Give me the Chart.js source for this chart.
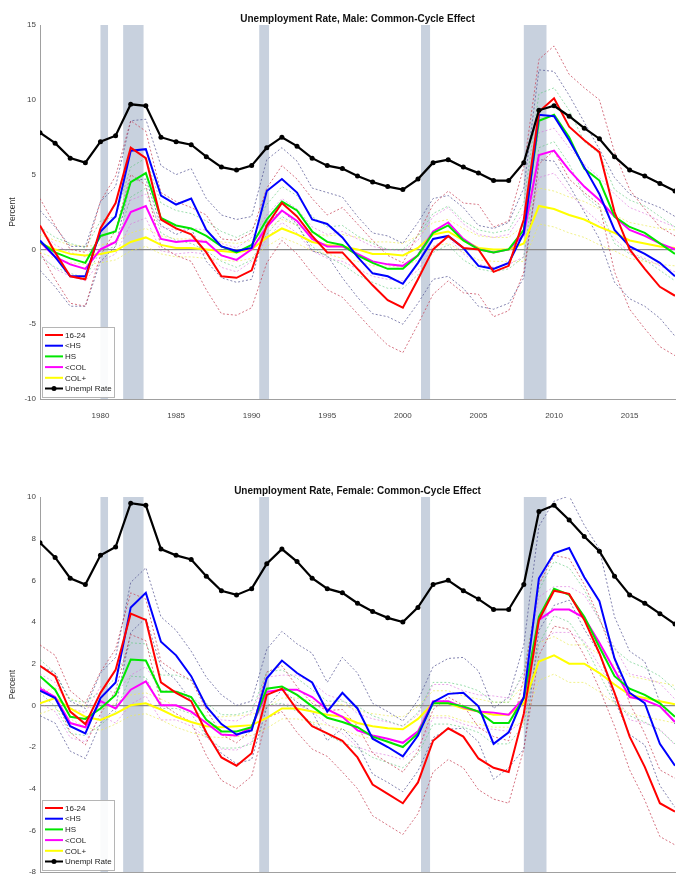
<!DOCTYPE html>
<html>
<head>
<meta charset="utf-8">
<script src="https://cdn.jsdelivr.net/npm/chart.js@4"></script>
<style>
  html, body { margin: 0; padding: 0; background: #fff; overflow: hidden; width: 676px; height: 884px; }
  .wrap { position: absolute; left: 0; width: 679px; }
  canvas { display: block; }
</style>
</head>
<body>
<div class="wrap" style="top:0"><canvas id="maleChart" width="679" height="419"></canvas></div>
<div class="wrap" style="top:472px"><canvas id="femaleChart" width="679" height="420"></canvas></div>
<script>
const YEARS = [1976,1977,1978,1979,1980,1981,1982,1983,1984,1985,1986,1987,1988,1989,1990,1991,1992,1993,1994,1995,
  1996,1997,1998,1999,2000,2001,2002,2003,2004,2005,2006,2007,2008,2009,2010,2011,2012,2013,2014,2015,2016,2017,2018];
const X_TICKS = [1980, 1985, 1990, 1995, 2000, 2005, 2010, 2015];
const RECESSIONS = [[1980.0, 1980.5], [1981.5, 1982.85], [1990.5, 1991.15], [2001.2, 2001.8], [2008.0, 2009.5]];
const LABELS = ["16-24", "<HS", "HS", "<COL", "COL+"];

// aggregate unemployment rate (same in both panels)
const UNEMPL = [7.8,7.1,6.1,5.8,7.2,7.6,9.7,9.6,7.5,7.2,7.0,6.2,5.5,5.3,5.6,6.8,7.5,6.9,6.1,5.6,
  5.4,4.9,4.5,4.2,4.0,4.7,5.8,6.0,5.5,5.1,4.6,4.6,5.8,9.3,9.6,8.9,8.1,7.4,6.2,5.3,4.9,4.4,3.9];

// ---- Male panel ----
const M_1624 = [1.6,-0.2,-1.8,-2.0,1.4,3.1,6.8,6.1,2.0,1.4,1.0, -0.2,-1.8,-1.9,-1.4,1.6,3.1,2.2,0.9,-0.2,
  -0.2,-1.3,-2.4,-3.4,-3.9,-2.0,0.0,0.9,0.1,0.0,-1.5,-1.1, 2.0,9.2,10.1,8.2,7.3,6.5, 2.5,0.0,-1.3,-2.5,-3.1];
const M_1624_HI = [3.4,1.6,0.0,-0.2,3.2,4.9,8.6,7.9,3.8,3.2,2.8, 2.3,0.7,0.6,1.1,4.1,5.6,4.7,3.4,2.3,
  2.8,1.7,0.6,-0.4,-0.9,1.0,3.0,3.9,3.1,3.0,1.5,1.9, 5.5,12.7,13.6,11.7,10.8,10.0, 6.5,4.0,2.7,1.5,0.9];
const M_1624_LO = [-0.2,-2.0,-3.6,-3.8,-0.4,1.3,5.0,4.3,0.2,-0.4,-0.8, -2.7,-4.3,-4.4,-3.9,-0.9,0.6,-0.3,-1.6,-2.7,
  -3.2,-4.3,-5.4,-6.4,-6.9,-5.0,-3.0,-2.1,-2.9,-3.0,-4.5,-4.1, -1.5,5.7,6.6,4.7,3.8,3.0, -1.5,-4.0,-5.3,-6.5,-7.1];
const M_LHS = [0.6,-0.5,-1.8,-1.8,1.2,2.2,6.6,6.7,3.6,3.0,3.4, 1.3,0.2,-0.1,0.1,3.9,4.7,3.8,2.0,1.7,
  0.8,-0.5,-1.6,-1.8,-2.3,-0.9,0.7,0.9,0.1,-1.1,-1.3,-0.9, 1.1,9.0,8.9,7.3,5.5,3.7, 1.3,0.2,-0.3,-0.9,-1.8];
const M_LHS_HI = [2.6,1.5,0.2,0.2,3.2,4.2,8.6,8.7,5.6,5.0,5.4, 3.4,2.3,2.0,2.2,6.0,6.8,5.9,4.1,3.8,
  3.5,2.2,1.1,0.9,0.4,1.8,3.4,3.6,2.8,1.6,1.4,1.8, 4.1,12.0,11.9,10.3,8.5,6.7, 4.8,3.7,3.2,2.8,2.2];
const M_LHS_LO = [-1.4,-2.5,-3.8,-3.8,-0.8,0.2,4.6,4.7,1.6,1.0,1.4, -0.8,-1.9,-2.2,-2.0,1.8,2.6,1.7,-0.1,-0.4,
  -1.9,-3.2,-4.3,-4.5,-5.0,-3.6,-2.0,-1.8,-2.6,-3.8,-4.0,-3.6, -1.9,6.0,5.9,4.3,2.5,0.7, -2.2,-3.3,-3.8,-4.6,-5.8];
const M_HS = [0.5,-0.2,-0.6,-0.9,0.9,1.2,4.5,5.1,2.1,1.6,1.4, 0.9,0.2,-0.2,0.3,2.0,3.2,2.6,1.2,0.5,
  0.3,-0.4,-0.9,-1.3,-1.3,-0.4,1.1,1.6,0.6,0.0,-0.2,0.0, 1.3,8.6,9.0,7.5,5.4,4.6, 2.2,1.5,1.1,0.4,-0.3];
const M_HS_HI = [1.5,0.8,0.4,0.1,1.9,2.2,5.5,6.1,3.1,2.6,2.4, 1.9,1.2,0.8,1.3,3.0,4.2,3.6,2.2,1.5,
  1.6,0.9,0.4,0.0,0.0,0.9,2.4,2.9,1.9,1.3,1.1,1.3, 3.1,10.4,10.8,9.3,7.2,6.4, 4.0,3.3,2.9,2.2,1.5];
const M_HS_LO = [-0.5,-1.2,-1.6,-1.9,-0.1,0.2,3.5,4.1,1.1,0.6,0.4, -0.1,-0.8,-1.2,-0.7,1.0,2.2,1.6,0.2,-0.5,
  -1.0,-1.7,-2.2,-2.6,-2.6,-1.7,-0.2,0.3,-0.7,-1.3,-1.5,-1.3, -0.5,6.8,7.2,5.7,3.6,2.8, 0.4,-0.3,-0.7,-1.4,-2.1];
const M_LCOL = [0.5,-0.5,-1.0,-1.3,0.0,0.5,2.5,2.9,0.7,0.5,0.6, 0.5,-0.4,-0.7,0.0,1.5,2.6,1.9,0.7,0.2,
  0.2,-0.3,-0.8,-1.0,-1.1,-0.4,1.2,1.8,0.7,0.0,-0.2,0.0, 1.0,6.3,6.6,5.3,4.2,3.3, 2.2,1.3,0.9,0.4,0.0];
const M_LCOL_HI = [1.3,0.3,-0.2,-0.5,0.8,1.3,3.3,3.7,1.5,1.3,1.4, 1.3,0.4,0.1,0.8,2.3,3.4,2.7,1.5,1.0,
  1.2,0.7,0.2,0.0,-0.1,0.6,2.2,2.8,1.7,1.0,0.8,1.0, 2.5,7.8,8.1,6.8,5.7,4.8, 3.7,2.8,2.4,1.9,1.5];
const M_LCOL_LO = [-0.3,-1.3,-1.8,-2.1,-0.8,-0.3,1.7,2.1,-0.1,-0.3,-0.2, -0.3,-1.2,-1.5,-0.8,0.7,1.8,1.1,-0.1,-0.6,
  -0.8,-1.3,-1.8,-2.0,-2.1,-1.4,0.2,0.8,-0.3,-1.0,-1.2,-1.0, -0.5,4.8,5.1,3.8,2.7,1.8, 0.7,-0.2,-0.6,-1.1,-1.5];
const M_COL = [0.4,0.0,-0.3,-0.4,-0.3,-0.1,0.5,0.8,0.3,0.1,0.1, 0.0,-0.1,-0.2,0.0,0.8,1.4,1.0,0.5,0.3,
  0.2,0.0,-0.3,-0.3,-0.4,0.1,1.0,1.2,0.6,0.1,0.0,0.0, 0.4,2.9,2.7,2.3,2.0,1.5, 1.1,0.6,0.4,0.2,0.1];
const M_COL_HI = [1.0,0.6,0.3,0.2,0.3,0.5,1.1,1.4,0.9,0.7,0.7, 0.6,0.5,0.4,0.6,1.4,2.0,1.6,1.1,0.9,
  1.0,0.8,0.5,0.5,0.4,0.9,1.8,2.0,1.4,0.9,0.8,0.8, 1.6,4.1,3.9,3.5,3.2,2.7, 2.3,1.8,1.6,1.4,1.3];
const M_COL_LO = [-0.2,-0.6,-0.9,-1.0,-0.9,-0.7,-0.1,0.2,-0.3,-0.5,-0.5, -0.6,-0.7,-0.8,-0.6,0.2,0.8,0.4,-0.1,-0.3,
  -0.6,-0.8,-1.1,-1.1,-1.2,-0.7,0.2,0.4,-0.2,-0.7,-0.8,-0.8, -0.8,1.7,1.5,1.1,0.8,0.3, -0.1,-0.6,-0.8,-1.0,-1.1];

// ---- Female panel ----
const F_1624 = [1.9,1.4,-0.3,-0.9,0.6,1.7,4.4,4.1,1.1,0.6,0.2, -1.3,-2.5,-2.9,-2.3,0.5,0.8,-0.2,-1.0,-1.35,
  -1.7,-2.5,-3.8,-4.25,-4.7,-3.7,-1.7,-1.1,-1.5,-2.55,-3.0,-3.2, -0.4,4.1,5.5,5.35,4.1,2.5, 0.6,-1.5,-2.95,-4.7,-5.1];
const F_1624_HI = [2.9,2.4,0.7,0.1,1.6,2.7,5.4,5.1,2.1,1.6,1.2, -0.2,-1.4,-1.8,-1.2,1.6,1.9,0.9,0.1,-0.25,
  -0.2,-1.0,-2.3,-2.75,-3.2,-2.2,-0.2,0.4,0.0,-1.05,-1.5,-1.7, 1.3,5.8,7.2,7.05,5.8,4.2, 2.2,0.1,-1.35,-3.1,-3.5];
const F_1624_LO = [0.9,0.4,-1.3,-1.9,-0.4,0.7,3.4,3.1,0.1,-0.4,-0.8, -2.4,-3.6,-4.0,-3.4,-0.6,-0.3,-1.3,-2.1,-2.45,
  -3.2,-4.0,-5.3,-5.75,-6.2,-5.2,-3.2,-2.6,-3.0,-4.05,-4.5,-4.7, -2.1,2.4,3.8,3.65,2.4,0.8, -1.0,-3.1,-4.55,-6.3,-6.7];
const F_LHS = [0.7,0.35,-1.0,-1.35,0.35,1.1,4.7,5.4,3.05,2.4,1.4, -0.05,-0.9,-1.4,-1.2,1.3,2.15,1.55,1.1,-0.3,
  0.6,-0.15,-1.6,-2.0,-2.45,-1.45,0.15,0.55,0.6,-0.05,-1.85,-1.3, 0.4,6.1,7.3,7.55,6.15,5.0, 2.25,0.6,0.1,-1.85,-2.9];
const F_LHS_HI = [1.9,1.55,0.2,-0.15,1.55,2.3,5.9,6.6,4.25,3.6,2.6, 1.35,0.5,0.0,0.2,2.7,3.55,2.95,2.5,1.1,
  2.3,1.55,0.1,-0.3,-0.75,0.25,1.85,2.25,2.3,1.65,-0.15,0.4, 2.9,8.6,9.8,10.05,8.65,7.5, 4.25,2.6,2.1,0.15,-0.9];
const F_LHS_LO = [-0.5,-0.85,-2.2,-2.55,-0.85,-0.1,3.5,4.2,1.85,1.2,0.2, -1.45,-2.3,-2.8,-2.6,-0.1,0.75,0.15,-0.3,-1.7,
  -1.1,-1.85,-3.3,-3.7,-4.15,-3.15,-1.55,-1.15,-1.1,-1.75,-3.55,-3.0, -2.1,3.6,4.8,5.05,3.65,2.5, 0.25,-1.4,-1.9,-3.85,-4.9];
const F_HS = [1.4,0.75,-0.55,-0.65,-0.15,0.5,2.2,2.15,0.65,0.65,0.4, -0.7,-1.25,-1.25,-1.05,0.8,0.9,0.5,-0.05,-0.6,
  -0.8,-1.05,-1.5,-1.75,-2.0,-1.35,0.1,0.1,-0.05,-0.3,-0.85,-0.85, 0.35,4.25,5.6,5.3,4.25,2.8, 1.4,0.8,0.5,0.1,-0.55];
const F_HS_HI = [2.2,1.55,0.25,0.15,0.65,1.3,3.0,2.95,1.45,1.45,1.2, 0.1,-0.45,-0.45,-0.25,1.6,1.7,1.3,0.75,0.2,
  0.2,-0.05,-0.5,-0.75,-1.0,-0.35,1.1,1.1,0.95,0.7,0.15,0.15, 1.65,5.55,6.9,6.6,5.55,4.1, 2.7,2.1,1.8,1.4,0.75];
const F_HS_LO = [0.6,-0.05,-1.35,-1.45,-0.95,-0.3,1.4,1.35,-0.15,-0.15,-0.4, -1.5,-2.05,-2.05,-1.85,0.0,0.1,-0.3,-0.85,-1.4,
  -1.8,-2.05,-2.5,-2.75,-3.0,-2.35,-0.9,-0.9,-1.05,-1.3,-1.85,-1.85, -0.95,2.95,4.3,4.0,2.95,1.5, 0.1,-0.5,-0.8,-1.2,-1.85];
const F_LCOL = [0.8,0.4,-0.85,-1.05,0.2,-0.15,0.75,1.15,0.0,0.0,-0.3, -0.85,-1.4,-1.45,-1.05,0.65,0.75,0.75,0.4,-0.2,
  -0.55,-1.2,-1.45,-1.6,-1.8,-1.25,0.2,0.2,-0.1,-0.3,-0.35,-0.45, 0.35,4.1,4.6,4.6,4.2,3.0, 1.7,0.4,0.25,-0.05,-0.8];
const F_LCOL_HI = [1.5,1.1,-0.15,-0.35,0.9,0.55,1.45,1.85,0.7,0.7,0.4, -0.15,-0.7,-0.75,-0.35,1.35,1.45,1.45,1.1,0.5,
  0.25,-0.4,-0.65,-0.8,-1.0,-0.45,1.0,1.0,0.7,0.5,0.45,0.35, 1.45,5.2,5.7,5.7,5.3,4.1, 2.8,1.5,1.35,1.05,0.3];
const F_LCOL_LO = [0.1,-0.3,-1.55,-1.75,-0.5,-0.85,0.05,0.45,-0.7,-0.7,-1.0, -1.55,-2.1,-2.15,-1.75,-0.05,0.05,0.05,-0.3,-0.9,
  -1.35,-2.0,-2.25,-2.4,-2.6,-2.05,-0.6,-0.6,-0.9,-1.1,-1.15,-1.25, -0.75,3.0,3.5,3.5,3.1,1.9, 0.6,-0.7,-0.85,-1.15,-1.9];
const F_COL = [0.1,0.35,-0.15,-0.55,-0.7,-0.4,0.0,0.1,-0.2,-0.55,-0.8, -1.0,-1.05,-1.0,-0.95,-0.6,-0.15,-0.15,-0.3,-0.45,
  -0.55,-0.85,-1.0,-1.1,-1.15,-0.65,0.1,0.1,-0.15,-0.3,-0.45,-0.45, 0.1,2.1,2.4,2.0,2.0,1.55, 1.0,0.5,0.35,0.2,0.05];
const F_COL_HI = [0.6,0.85,0.35,-0.05,-0.2,0.1,0.5,0.6,0.3,-0.05,-0.3, -0.5,-0.55,-0.5,-0.45,-0.1,0.35,0.35,0.2,0.05,
  0.05,-0.25,-0.4,-0.5,-0.55,-0.05,0.7,0.7,0.45,0.3,0.15,0.15, 1.0,3.0,3.3,2.9,2.9,2.45, 1.9,1.4,1.25,1.1,0.95];
const F_COL_LO = [-0.4,-0.15,-0.65,-1.05,-1.2,-0.9,-0.5,-0.4,-0.7,-1.05,-1.3, -1.5,-1.55,-1.5,-1.45,-1.1,-0.65,-0.65,-0.8,-0.95,
  -1.15,-1.45,-1.6,-1.7,-1.75,-1.25,-0.5,-0.5,-0.75,-0.9,-1.05,-1.05, -0.8,1.2,1.5,1.1,1.1,0.65, 0.1,-0.4,-0.55,-0.7,-0.85];

const LINE_COLORS = ["#ff0000", "#0000ff", "#00e600", "#ff00ff", "#ffff00"];
const BAND_COLORS = ["rgba(200,70,90,0.75)", "rgba(90,90,150,0.75)", "rgba(90,200,120,0.6)", "rgba(220,110,220,0.6)", "rgba(235,235,90,0.7)"];

Chart.defaults.font.family = '"Liberation Sans", Arial, sans-serif';

function pts(vals) {
  return YEARS.map((yr, i) => ({ x: yr, y: vals[i] }));
}

//grey shading for recessions, drawn under everything
const recessionPlugin = {
  id: "recessions",
  beforeDraw(chart) {
    const { ctx, chartArea: a, scales: { x } } = chart;
    ctx.save();
    ctx.fillStyle = "rgb(200,209,222)";
    RECESSIONS.forEach(([s, e]) => {
      const x0 = x.getPixelForValue(s);
      const x1 = x.getPixelForValue(e);
      ctx.fillRect(x0, a.top, x1 - x0, a.bottom - a.top);
    });
    ctx.restore();
  }
};

//boxed legend in the lower left corner
const boxLegendPlugin = {
  id: "boxLegend",
  afterDraw(chart) {
    const { ctx, chartArea: a } = chart;
    const items = chart.data.datasets.filter(d => d.inLegend);
    const bw = 72, bh = 70;
    const bx = a.left + 2, by = a.bottom - 2 - bh;
    ctx.save();
    ctx.fillStyle = "rgba(255,255,255,0.9)";
    ctx.fillRect(bx, by, bw, bh);
    ctx.strokeStyle = "#b5b5b5";
    ctx.lineWidth = 1;
    ctx.strokeRect(bx + 0.5, by + 0.5, bw, bh);
    ctx.font = '8px "Liberation Sans", Arial, sans-serif';
    ctx.textBaseline = "middle";
    items.forEach((d, i) => {
      const yy = by + 8 + i * 10.7;
      ctx.strokeStyle = d.borderColor;
      ctx.lineWidth = 2;
      ctx.beginPath();
      ctx.moveTo(bx + 3, yy);
      ctx.lineTo(bx + 21, yy);
      ctx.stroke();
      if (d.pointRadius) {
        ctx.fillStyle = d.borderColor;
        ctx.beginPath();
        ctx.arc(bx + 12, yy, 2.5, 0, Math.PI * 2);
        ctx.fill();
      }
      ctx.fillStyle = "#222";
      ctx.fillText(d.label, bx + 23, yy + 0.5);
    });
    ctx.restore();
  }
};

function makeChart(id, title, lines, bands, yMin, yMax, yStep) {
  const datasets = [];
  lines.forEach((vals, i) => {
    datasets.push({
      label: LABELS[i], data: pts(vals), inLegend: true,
      borderColor: LINE_COLORS[i], borderWidth: 2, pointRadius: 0, order: 1
    });
  });
  datasets.push({
    label: "Unempl Rate", data: pts(UNEMPL), inLegend: true,
    borderColor: "#000", backgroundColor: "#000", borderWidth: 2.2,
    pointRadius: 2.5, pointBackgroundColor: "#000", pointBorderWidth: 0, order: 0
  });
  bands.forEach((pair, i) => {
    pair.forEach(vals => {
      datasets.push({
        label: LABELS[i] + " band", data: pts(vals),
        borderColor: BAND_COLORS[i], borderWidth: 1, borderDash: [2, 2],
        pointRadius: 0, order: 2
      });
    });
  });

  const tickFont = { size: 8 };
  return new Chart(document.getElementById(id), {
    type: "line",
    data: { datasets },
    plugins: [recessionPlugin, boxLegendPlugin],
    options: {
      responsive: false,
      animation: false,
      events: [],
      layout: { padding: 0 },
      plugins: {
        legend: { display: false },
        tooltip: { enabled: false },
        title: {
          display: true, text: title, color: "#111", fullSize: false,
          font: { size: 10, weight: "bold" },
          padding: { top: 13, bottom: 0 }
        }
      },
      scales: {
        x: {
          type: "linear", min: 1976, max: 2018,
          afterBuildTicks: s => { s.ticks = X_TICKS.map(v => ({ value: v })); },
          afterFit: s => { s.height = 20; },
          grid: { display: false },
          border: { display: true, color: "#a0a0a0" },
          ticks: { padding: 4, font: tickFont, color: "#444", maxRotation: 0, callback: v => String(v) }
        },
        y: {
          min: yMin, max: yMax,
          afterFit: s => { s.width = 40; },
          grid: {
            drawTicks: false, lineWidth: 1.2,
            color: c => (c.tick && c.tick.value === 0 ? "#8a8a8a" : "rgba(0,0,0,0)")
          },
          border: { display: true, color: "#a0a0a0" },
          ticks: { stepSize: yStep, padding: 4, font: tickFont, color: "#444" },
          title: { display: true, text: "Percent", color: "#333", font: { size: 8.5 }, padding: { top: 8, bottom: 0 } }
        }
      }
    }
  });
}

makeChart("maleChart", "Unemployment Rate, Male: Common-Cycle Effect",
  [M_1624, M_LHS, M_HS, M_LCOL, M_COL],
  [[M_1624_HI, M_1624_LO], [M_LHS_HI, M_LHS_LO], [M_HS_HI, M_HS_LO], [M_LCOL_HI, M_LCOL_LO], [M_COL_HI, M_COL_LO]],
  -10, 15, 5);

makeChart("femaleChart", "Unemployment Rate, Female: Common-Cycle Effect",
  [F_1624, F_LHS, F_HS, F_LCOL, F_COL],
  [[F_1624_HI, F_1624_LO], [F_LHS_HI, F_LHS_LO], [F_HS_HI, F_HS_LO], [F_LCOL_HI, F_LCOL_LO], [F_COL_HI, F_COL_LO]],
  -8, 10, 2);
</script>
</body>
</html>
